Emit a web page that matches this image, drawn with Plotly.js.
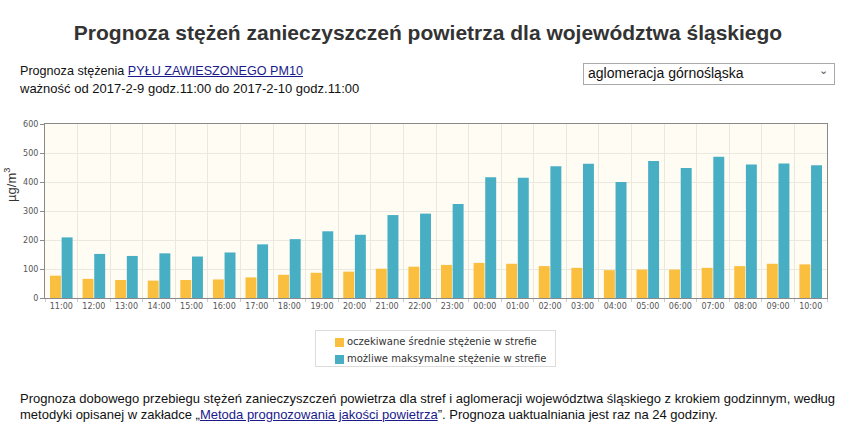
<!DOCTYPE html>
<html>
<head>
<meta charset="utf-8">
<script src="https://cdn.plot.ly/plotly-3.0.1.min.js"></script>
<style>
  html, body { margin:0; padding:0; background:#fff; width:852px; height:443px; overflow:hidden; }
  #chart { position:absolute; left:0; top:0; width:852px; height:443px; }
  .txt { position:absolute; font-family:"Liberation Sans", Arial, sans-serif; color:#111; white-space:nowrap; }
  a { color:#1a1a8c; text-decoration:underline; }
  #title { left:0; width:856px; top:21px; text-align:center; font-size:21px; font-weight:bold; color:#333; }
  #sel { position:absolute; left:583px; top:63px; width:250px; height:20px; border:1px solid #a9a9a9; background:#fff;
         font-family:"Liberation Sans", Arial, sans-serif; font-size:14px; color:#111; box-sizing:content-box; }
  #sel span.v { position:absolute; left:4px; top:1px; }
  #sel span.c { position:absolute; right:6px; top:0px; font-size:11px; color:#555; }
  #legend { position:absolute; left:315px; top:330px; width:239px; height:35px; border:1px solid #dcdcdc; background:#fff; }
  .lrow { position:absolute; left:19px; height:12px; font-family:"DejaVu Sans", Verdana, sans-serif; font-size:10px; color:#333; white-space:nowrap; }
  .lrow i { position:absolute; left:0; top:1px; width:9px; height:9px; }
  .lrow span { position:absolute; left:12px; top:-1px; }
</style>
</head>
<body>
<div id="chart"></div>
<div class="txt" id="title">Prognoza stężeń zanieczyszczeń powietrza dla województwa śląskiego</div>
<div class="txt" style="left:20px; top:64px; font-size:12.6px;">Prognoza stężenia <a href="#">PYŁU ZAWIESZONEGO PM10</a></div>
<div class="txt" style="left:20px; top:81px; font-size:13px;">ważność od 2017-2-9 godz.11:00 do 2017-2-10 godz.11:00</div>
<div id="sel"><span class="v">aglomeracja górnośląska</span><span class="c">&#8964;</span></div>
<div id="legend"></div>
<div class="txt" style="left:20px; top:391px; font-size:13px;">Prognoza dobowego przebiegu stężeń zanieczyszczeń powietrza dla stref i aglomeracji województwa śląskiego z krokiem godzinnym, według</div>
<div class="txt" style="left:20px; top:407px; font-size:13px;">metodyki opisanej w zakładce „<a href="#">Metoda prognozowania jakości powietrza</a>”. Prognoza uaktualniania jest raz na 24 godziny.</div>
<script>
const hours = ["11:00","12:00","13:00","14:00","15:00","16:00","17:00","18:00","19:00","20:00","21:00","22:00",
               "23:00","00:00","01:00","02:00","03:00","04:00","05:00","06:00","07:00","08:00","09:00","10:00"];
const meanValues = [77,66,62,60,62,64,71,80,87,91,101,108,114,121,118,110,104,96,98,98,104,110,118,116];
const maxValues  = [209,152,145,154,143,157,185,203,230,218,286,291,324,416,415,454,463,400,472,448,487,460,464,458];
const seriesNames = ["oczekiwane średnie stężenie w strefie","możliwe maksymalne stężenie w strefie"];
const seriesColors = ["#fbbf3f","#47aec4"];

const traces = [
  {type:"bar", x:hours, y:meanValues, name:seriesNames[0], marker:{color:seriesColors[0]}, hoverinfo:"x+y"},
  {type:"bar", x:hours, y:maxValues, name:seriesNames[1], marker:{color:seriesColors[1]}, hoverinfo:"x+y"}
];

// HTML legend built from the series names/colours
const leg = document.getElementById("legend");
seriesNames.forEach((n, i) => {
  const r = document.createElement("div");
  r.className = "lrow";
  r.style.top = (6 + i * 17) + "px";
  const sw = document.createElement("i"); sw.style.background = seriesColors[i];
  const t = document.createElement("span"); t.textContent = n;
  r.appendChild(sw); r.appendChild(t); leg.appendChild(r);
});

const tickFont = {family:"DejaVu Sans, Verdana, sans-serif", size:8, color:"#555"};
const layout = {
  width:852, height:443,
  margin:{l:45, r:25, t:124, b:145},
  paper_bgcolor:"rgba(0,0,0,0)",
  plot_bgcolor:"#fffcf3",
  barmode:"group", bargap:0.285, bargroupgap:0.06,
  showlegend:false,
  xaxis:{type:"category", tickson:"boundaries", showgrid:true, gridcolor:"#ebe9df", gridwidth:1,
         showline:true, linecolor:"#8a8a8a", linewidth:1, mirror:true,
         ticks:"outside", ticklen:3, tickcolor:"#cccccc", tickfont:tickFont, fixedrange:true},
  yaxis:{range:[0,600], dtick:100, showgrid:true, gridcolor:"#ebe9df", gridwidth:1,
         showline:true, linecolor:"#8a8a8a", linewidth:1, mirror:true, zeroline:false,
         ticks:"outside", ticklen:4, tickcolor:"#8a8a8a", tickfont:tickFont, fixedrange:true},
  annotations:[{text:"µg/m<sup>3</sup>", xref:"paper", yref:"paper", x:0, xshift:-35, y:0.65,
                xanchor:"center", yanchor:"middle", textangle:-90, showarrow:false,
                font:{family:"Liberation Sans, Arial, sans-serif", size:13, color:"#333"}}]
};
Plotly.newPlot("chart", traces, layout, {displayModeBar:false});
</script>
</body>
</html>
